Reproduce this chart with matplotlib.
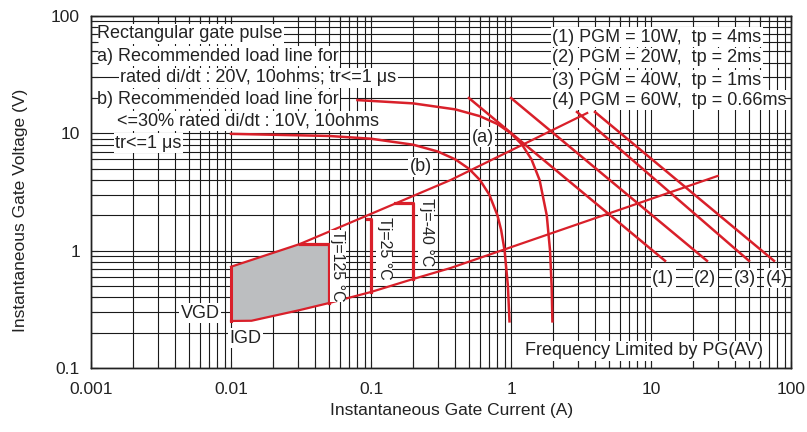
import matplotlib
matplotlib.use('Agg')
import matplotlib.pyplot as plt
from matplotlib.ticker import LogLocator, NullFormatter, FixedLocator

plt.rcParams['font.family'] = ['Liberation Sans', 'DejaVu Sans']

RED = '#d9202a'
GRAY = '#bcbec0'

x_ticks = [0.001, 0.01, 0.1, 1, 10, 100]
x_tick_labels = ['0.001', '0.01', '0.1', '1', '10', '100']
y_ticks = [0.1, 1, 10, 100]
y_tick_labels = ['0.1', '1', '10', '100']

# load line (a): 20V, 10 ohms
load_a_i = [0.08, 0.2, 0.4, 0.6, 0.8, 1.0, 1.2, 1.4, 1.6, 1.8, 1.9, 1.95, 1.975]
load_a_v = [19.2, 18.0, 16.0, 14.0, 12.0, 10.0, 8.0, 6.0, 4.0, 2.0, 1.0, 0.5, 0.25]
# load line (b): 10V, 10 ohms
load_b_i = [0.01, 0.05, 0.1, 0.2, 0.3, 0.4, 0.5, 0.6, 0.7, 0.8, 0.85, 0.9, 0.95, 0.975]
load_b_v = [9.9, 9.5, 9.0, 8.0, 7.0, 6.0, 5.0, 4.0, 3.0, 2.0, 1.5, 1.0, 0.5, 0.25]

# peak gate power lines
pgm_labels = ['(1)', '(2)', '(3)', '(4)']
pgm_i_start = [0.5, 1.0, 2.96, 3.98]
pgm_v_start = [20.0, 20.0, 15.2, 15.2]
pgm_i_end = [12.6, 25.1, 50.1, 75.6]
pgm_v_end = [0.82, 0.82, 0.82, 0.82]
pgm_legend = ['(1) PGM = 10W,  tp = 4ms',
              '(2) PGM = 20W,  tp = 2ms',
              '(3) PGM = 40W,  tp = 1ms',
              '(4) PGM = 60W,  tp = 0.66ms']

# gate characteristic boundaries
upper_i = [0.01, 0.031, 0.07, 0.37, 3.5]
upper_v = [0.73, 1.14, 1.72, 4.0, 14.9]
lower_i = [0.01, 0.014, 0.031, 0.05, 0.1, 0.2, 0.37, 30.0]
lower_v = [0.252, 0.253, 0.312, 0.358, 0.445, 0.574, 0.712, 4.34]

# trigger limits per junction temperature
tj_labels = ['Tj=125 °C', 'Tj=25 °C', 'Tj=-40 °C']
tj_igt = [0.05, 0.1, 0.2]
tj_vgt = [1.14, 1.86, 2.54]
tj_i_upper = [0.031, 0.094, 0.148]
tj_v_lower = [0.358, 0.445, 0.574]

notes = ['Rectangular gate pulse',
         'a) Recommended load line for',
         'rated di/dt : 20V, 10ohms; tr<=1 μs',
         'b) Recommended load line for',
         '<=30% rated di/dt : 10V, 10ohms',
         'tr<=1 μs']

fig = plt.figure(figsize=(8.07, 4.32), dpi=100)
ax = fig.add_axes([0.1128, 0.148, 0.8674, 0.815])
ax.set_xscale('log')
ax.set_yscale('log')
ax.set_xlim(0.001, 100)
ax.set_ylim(0.1, 100)
ax.set_axisbelow(True)
ax.grid(True, which='both', color='#1a1a1a', lw=0.8)

ax.xaxis.set_major_locator(FixedLocator(x_ticks))
ax.set_xticklabels(x_tick_labels)
ax.yaxis.set_major_locator(FixedLocator(y_ticks))
ax.set_yticklabels(y_tick_labels)
ax.xaxis.set_minor_locator(LogLocator(base=10, subs=range(2, 10)))
ax.yaxis.set_minor_locator(LogLocator(base=10, subs=range(2, 10)))
ax.xaxis.set_minor_formatter(NullFormatter())
ax.yaxis.set_minor_formatter(NullFormatter())
ax.tick_params(which='both', length=0, labelsize=12.5, colors='#222222')
ax.tick_params(axis='x', pad=10)
ax.tick_params(axis='y', pad=8)
for s in ax.spines.values():
    s.set_linewidth(1.0)
    s.set_color('#222222')

# shaded region for Tj=125
poly_i = [i for i in upper_i if i < tj_igt[0]] + [tj_igt[0], tj_igt[0]]
poly_v = [v for i, v in zip(upper_i, upper_v) if i < tj_igt[0]] + [tj_vgt[0], tj_v_lower[0]]
poly_i += [i for i in lower_i if i < tj_igt[0]][::-1]
poly_v += [v for i, v in zip(lower_i, lower_v) if i < tj_igt[0]][::-1]
ax.fill(poly_i, poly_v, color=GRAY, zorder=1, lw=0)

ax.plot(upper_i, upper_v, color=RED, lw=1.6, zorder=2)
ax.plot(lower_i, lower_v, color=RED, lw=1.6, zorder=2)
ax.plot([upper_i[0], lower_i[0]], [upper_v[0], lower_v[0]], color=RED, lw=2.2, zorder=2)
ax.plot(load_a_i, load_a_v, color=RED, lw=1.8, zorder=2)
ax.plot(load_b_i, load_b_v, color=RED, lw=1.8, zorder=2)
for k in range(4):
    ax.plot([pgm_i_start[k], pgm_i_end[k]], [pgm_v_start[k], pgm_v_end[k]], color=RED, lw=1.8, zorder=2)
for k in range(3):
    ax.plot([tj_i_upper[k], tj_igt[k], tj_igt[k]], [tj_vgt[k], tj_vgt[k], tj_v_lower[k]],
            color=RED, lw=2.3, zorder=2)

box = dict(facecolor='white', edgecolor='none', pad=1.0)
txt = dict(fontsize=13, color='#222222', bbox=box, zorder=3)

note_x = [0.0086, 0.0086, 0.0414, 0.0086, 0.0371, 0.0343]
note_y = [0.949, 0.886, 0.824, 0.764, 0.702, 0.639]
for s, fx, fy in zip(notes, note_x, note_y):
    ax.text(fx, fy, s, transform=ax.transAxes, ha='left', va='center', **txt)

for k, s in enumerate(pgm_legend):
    ax.text(0.659, [0.940, 0.881, 0.818, 0.761][k], s, transform=ax.transAxes,
            ha='left', va='center', **txt)

for s, xi in zip(pgm_labels, [12.2, 24.3, 46.9, 79.4]):
    ax.text(xi, 0.585, s, ha='center', va='center', **txt)

ax.text(0.63, 9.3, '(a)', ha='center', va='center', **txt)
ax.text(0.227, 5.2, '(b)', ha='center', va='center', **txt)
ax.text(0.006, 0.294, 'VGD', ha='center', va='center', **txt)
ax.text(0.0126, 0.18, 'IGD', ha='center', va='center', **txt)
ax.text(8.9, 0.14, 'Frequency Limited by PG(AV)', ha='center', va='center', **txt)

for s, xi, yv in zip(tj_labels, [0.058, 0.124, 0.247], [0.741, 1.05, 1.44]):
    ax.text(xi, yv, s, ha='center', va='center', rotation=-90, fontsize=11.5,
            color='#222222', bbox=dict(facecolor='white', edgecolor='none', pad=0.5), zorder=3)

ax.set_xlabel('Instantaneous Gate Current (A)', fontsize=12.5, color='#222222')
ax.set_ylabel('Instantaneous Gate Voltage (V)', fontsize=12.5, color='#222222')
ax.xaxis.set_label_coords(0.515, -0.1)
ax.yaxis.set_label_coords(-0.09, 0.449)

# tick marks drawn above the white text boxes
ax_t = fig.add_axes(ax.get_position(), sharex=ax, sharey=ax)
ax_t.patch.set_visible(False)
ax_t.tick_params(which='both', direction='in', length=5, width=0.8, top=True, right=True,
                 labelbottom=False, labelleft=False, colors='#222222')
ax_t.grid(False)
for s in ax_t.spines.values():
    s.set_linewidth(1.0)
    s.set_color('#222222')

fig.savefig('out.png', dpi=100)
